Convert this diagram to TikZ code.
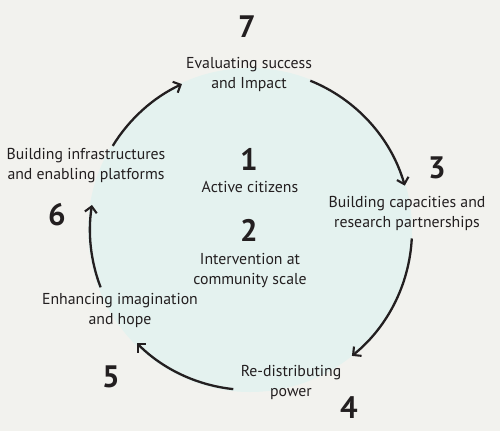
\documentclass[tikz,border=0pt]{standalone}
\usepackage{fontspec}
\setmainfont{PT Sans}
\usetikzlibrary{arrows.meta,calc}
\definecolor{bg}{HTML}{F2F2EE}
\definecolor{disc}{HTML}{E4F2EF}
\definecolor{ink}{HTML}{231F20}
\begin{document}
\begin{tikzpicture}[x=1pt,y=-1pt,
  lbl/.style={align=center,text=ink,font=\fontsize{15.8}{20}\selectfont,inner sep=0pt},
  num/.style={text=ink,font=\fontsize{31}{31}\bfseries\selectfont,inner sep=0pt},
  cyc/.style={ink,line width=2.3pt,-{Straight Barb[length=6pt,width=12pt,line width=2.1pt]}}]
\fill[bg] (0,0) rectangle (500,431);
\useasboundingbox (0,0) rectangle (500,431);
\coordinate (c) at (250,230);
\fill[disc] (c) circle[radius=162];
% numbers
\node[num] (n7) at (247,27) {7};
\node[num] (n3) at (437,168) {3};
\node[num] (n4) at (349,408) {4};
\node[num] (n5) at (111,377) {5};
\node[num] (n6) at (57,215) {6};
\node[num] (n1) at (249,159) {1};
\node[num] (n2) at (249,230) {2};
% labels
\node[lbl] (t7) at (249,74) {Evaluating success\\and Impact};
\node[lbl] (t3) at (407,213) {Building capacities and\\research partnerships};
\node[lbl] (t4) at (291,382) {Re-distributing\\power};
\node[lbl] (t5) at (120,310) {Enhancing imagination\\and hope};
\node[lbl] (t6) at (86,166) {Building infrastructures\\and enabling platforms};
\node[lbl] (t1) at (250,187) {Active citizens};
\node[lbl] (t2) at (250,271) {Intervention at\\community scale};
% arrows on the circle (y axis points down, so angles are mirrored)
\coordinate (a73) at ($(c)+(-68:161)$);
\coordinate (a34) at ($(c)+(3:162)$);
\coordinate (a45) at ($(c)+(96:160)$);
\coordinate (a56) at ($(c)+(159:160)$);
\coordinate (a67) at ($(c)+(-148.5:161)$);
\draw[cyc] (a73) arc[start angle=-68,end angle=-16,radius=161];
\draw[cyc] (a34) arc[start angle=3,end angle=51,radius=162];
\draw[cyc] (a45) arc[start angle=96,end angle=135,radius=160];
\draw[cyc] (a56) arc[start angle=159,end angle=189,radius=160];
\draw[cyc] (a67) arc[start angle=-148.5,end angle=-115,radius=161];
\end{tikzpicture}
\end{document}
